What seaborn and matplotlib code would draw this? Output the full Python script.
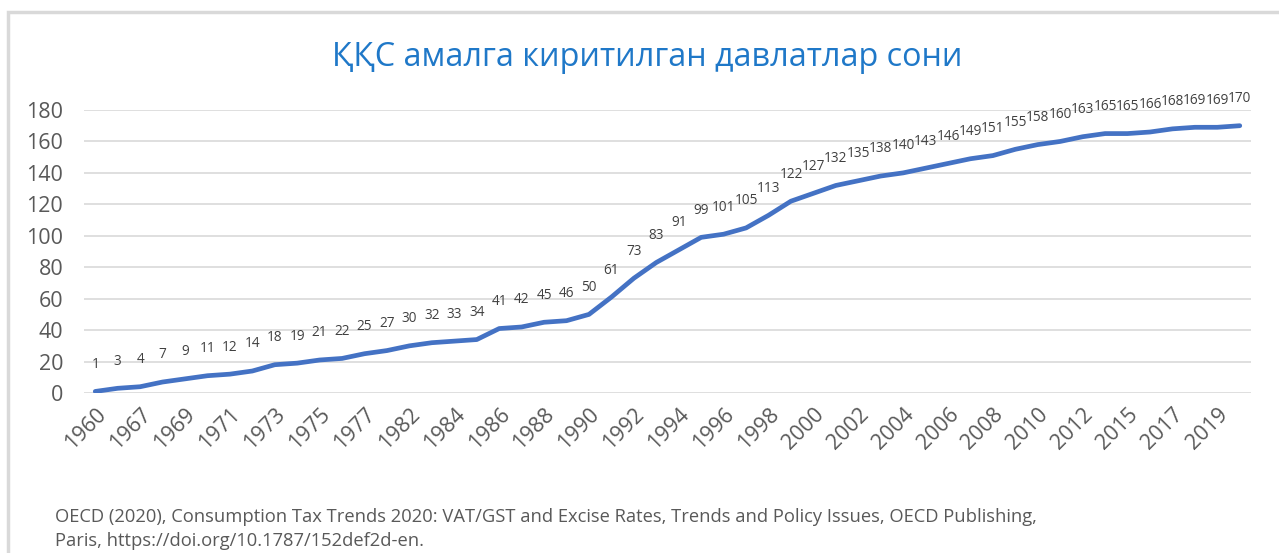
# -*- coding: utf-8 -*-

### Line chart: number of countries with VAT ###

import pandas as pd
import matplotlib.pyplot as plt
import matplotlib.patches as mpatches
import seaborn as sns

sns.set_style("white")
plt.rcParams['font.family'] = ['Open Sans', 'Noto Sans', 'DejaVu Sans']

## Data ##
years = ['1960', '1966', '1967', '1968', '1969', '1970', '1971', '1972', '1973', '1974',
         '1975', '1976', '1977', '1980', '1982', '1983', '1984', '1985', '1986', '1987',
         '1988', '1989', '1990', '1991', '1992', '1993', '1994', '1995', '1996', '1997',
         '1998', '1999', '2000', '2001', '2002', '2003', '2004', '2005', '2006', '2007',
         '2008', '2009', '2010', '2011', '2012', '2014', '2015', '2016', '2017', '2018',
         '2019', '2020']
countries = [1, 3, 4, 7, 9, 11, 12, 14, 18, 19,
             21, 22, 25, 27, 30, 32, 33, 34, 41, 42,
             45, 46, 50, 61, 73, 83, 91, 99, 101, 105,
             113, 122, 127, 132, 135, 138, 140, 143, 146, 149,
             151, 155, 158, 160, 163, 165, 165, 166, 168, 169,
             169, 170]
y_ticks = [0, 20, 40, 60, 80, 100, 120, 140, 160, 180]

title = "ҚҚС амалга киритилган давлатлар сони"
source_1 = "OECD (2020), Consumption Tax Trends 2020: VAT/GST and Excise Rates, Trends and Policy Issues, OECD Publishing,"
source_2 = "Paris, https://doi.org/10.1787/152def2d-en."

df = pd.DataFrame({'Year': years, 'Countries': countries})

## Plot ##
fig = plt.figure(figsize=(12.79, 5.53), dpi=100)
ax = fig.add_axes([0.0657, 0.2893, 0.9124, 0.5118])

sns.lineplot(data=df, x='Year', y='Countries', ax=ax, sort=False,
             color='#4472C4', linewidth=3.4, solid_capstyle='round')

# data labels
for i, v in enumerate(countries):
    ax.annotate(str(v), (i, v), xytext=(0, 19.5), textcoords='offset points',
                ha='center', va='center', fontsize=9.8, color='#404040')

ax.set_xlim(-0.5, len(years) - 0.5)
ax.set_ylim(0, 180)
ax.set_yticks(y_ticks)
ax.set_xticks(range(0, len(years), 2))
ax.set_xticklabels(years[::2], rotation=45, ha='right', rotation_mode='anchor')
ax.tick_params(axis='both', labelsize=15.5, colors='#595959', length=0)
ax.tick_params(axis='y', pad=15)
ax.tick_params(axis='x', pad=8)
ax.yaxis.grid(True, color='#D9D9D9', linewidth=1.2)
ax.set_axisbelow(True)
ax.set_xlabel('')
ax.set_ylabel('')
sns.despine(ax=ax, top=True, right=True, left=True, bottom=True)

# title and source note
fig.text(0.506, 1 - 57 / 553, title, ha='center', va='center', fontsize=23.3, color='#1F78C8')
fig.text(55 / 1279, 1 - 517 / 553, source_1, ha='left', va='center', fontsize=13.2,
         color='#595959')
fig.text(55 / 1279, 1 - 541 / 553, source_2, ha='left', va='center', fontsize=13.2,
         color='#595959')

# chart frame
fig.patches.append(mpatches.Rectangle((8 / 1279, -0.05), 1.2, 1 - 12 / 553 + 0.05,
                                      transform=fig.transFigure, fill=False,
                                      edgecolor='#D9D9D9', linewidth=2.5))

plt.savefig('out.png', dpi=100)
